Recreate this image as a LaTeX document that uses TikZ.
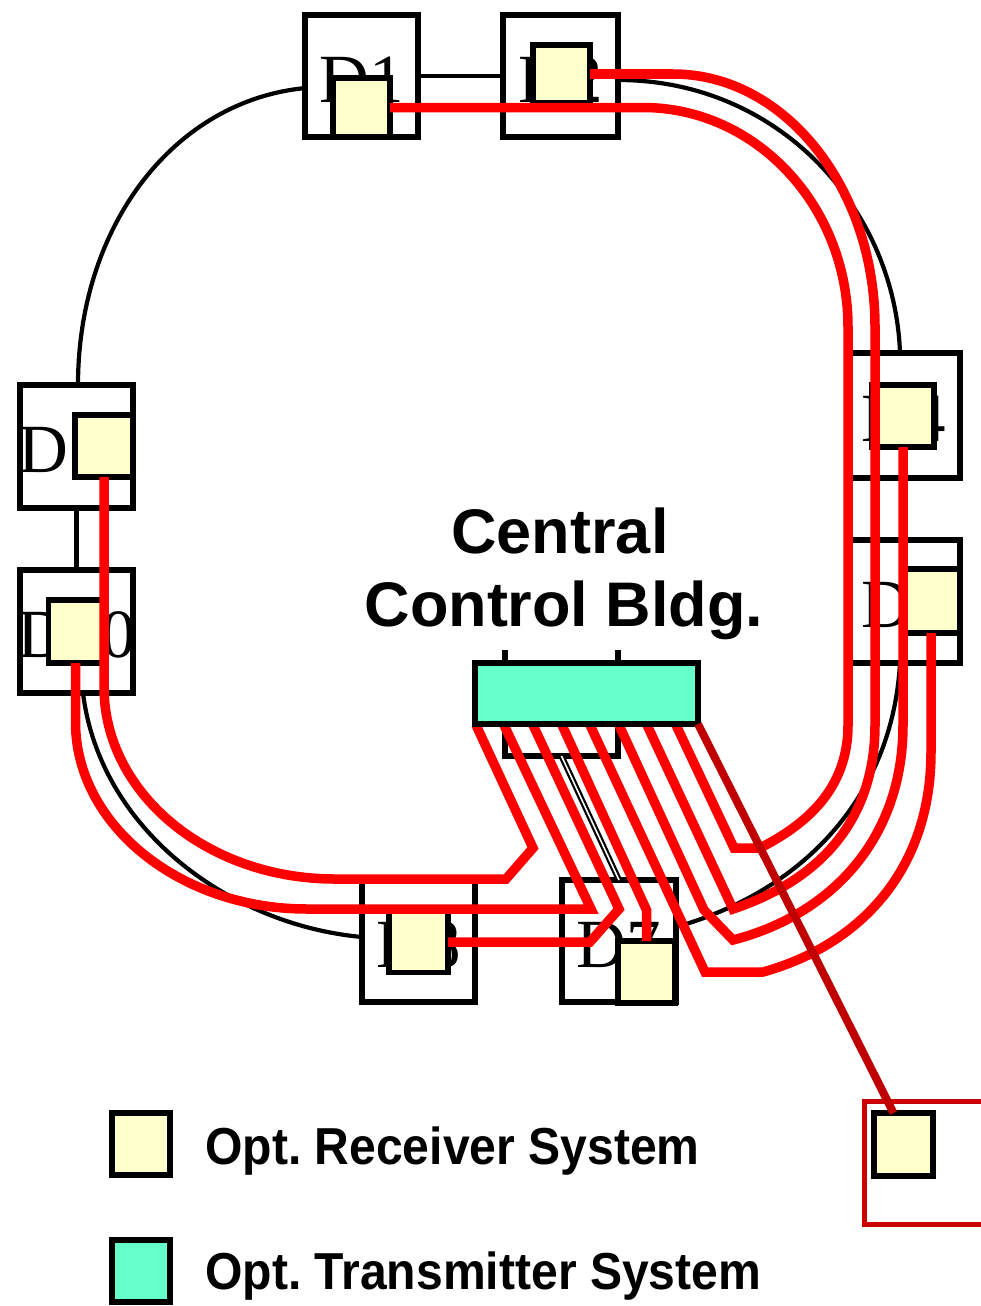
\documentclass[tikz,border=0pt]{standalone}
\usepackage{fontspec}
\newfontfamily\stnfont{Liberation Serif}
\newfontfamily\hsans{Liberation Sans}
\newfontfamily\hnarrow{Liberation Sans}[FakeStretch=0.925]
\usetikzlibrary{calc}
\definecolor{rcv}{HTML}{FFFFCC}
\definecolor{trmc}{HTML}{66FFCC}
\definecolor{fib}{HTML}{FF0000}
\definecolor{fibdk}{HTML}{C00000}
\definecolor{remc}{HTML}{CC0000}
\begin{document}
\begin{tikzpicture}[x=1pt,y=-1pt,
  stn/.style={draw=black,line width=5.5pt,fill=white,inner sep=0pt,outer sep=0pt,
     font=\stnfont\fontsize{69}{69}\selectfont,text height=52pt,text depth=0pt},
  rcvbox/.style={draw=black,line width=5.5pt,fill=rcv,inner sep=0pt,outer sep=0pt},
  ringline/.style={draw=black,line width=4.2pt},
  dblline/.style={draw=black,line width=2.2pt,double=white,double distance=1.6pt},
  fiber/.style={draw=fib,line width=9.5pt,line join=miter},
  fiberdk/.style={draw=fibdk,line width=8pt},
  bigtext/.style={font=\hsans\bfseries\fontsize{63}{63}\selectfont,anchor=base},
  legtext/.style={font=\hnarrow\bfseries\fontsize{52}{52}\selectfont,anchor=base west,inner sep=0pt}
]
\path[use as bounding box,fill=white] (0,0) rectangle (981,1306);

% ring
\draw[ringline] (78,385) .. controls (78,225) and (175,100) .. (306,88);
\draw[ringline] (618,80) .. controls (780,80) and (895,210) .. (900,353);
\draw[ringline] (900,663) .. controls (892,800) and (800,892) .. (676,927);
\draw[ringline] (83,693) .. controls (100,830) and (230,925) .. (362,937);

% stations
\node[stn,minimum width=113pt,minimum height=122pt] (d1) at (361.5,76) {\makebox[0pt]{D1}};
\node[stn,minimum width=115pt,minimum height=122pt] (d2) at (560.5,76) {\makebox[0pt]{D2}};
\node[stn,minimum width=112pt,minimum height=125pt] (d4) at (904,415.5) {\makebox[0pt]{D4}};
\node[stn,minimum width=112pt,minimum height=123pt] (d5) at (904,601.5) {\makebox[0pt]{D5}};
\node[stn,minimum width=113pt,minimum height=123pt] (d11) at (76.5,446.5) {\makebox[0pt]{D11}};
\node[stn,minimum width=113pt,minimum height=123pt] (d10) at (76.5,631.5) {\makebox[0pt]{D10}};
\node[stn,minimum width=113pt,minimum height=122pt] (d8) at (418.5,941) {\makebox[0pt]{D8}};
\node[stn,minimum width=114pt,minimum height=122pt] (d7) at (619,941) {\makebox[0pt]{D7}};
\node[stn,draw=none,fill=none,minimum width=113pt,minimum height=106pt] (d6) at (561.5,703) {};
\draw[black,line width=5.5pt] (d6.north west) -- (d6.south west) -- (d6.south east) -- (d6.north east);

% ring straight parts
\draw[ringline] (d1.east) -- (d2.west);
\draw[ringline] (d11.south) -- (d10.north);
\draw[ringline] (d4.south) -- (d5.north);
\draw[ringline] (d8.east) -- (d7.west);
\draw[dblline] (d6.south) -- (d7.north);

% receivers
\node[rcvbox,minimum width=57pt,minimum height=59pt] (r1) at (361.5,107.5) {};
\node[rcvbox,minimum width=57pt,minimum height=58pt] (r2) at (561.5,74) {};
\node[rcvbox,minimum width=62pt,minimum height=62pt] (r4) at (903,416) {};
\node[rcvbox,minimum width=58pt,minimum height=64pt] (r5) at (931,601) {};
\node[rcvbox,minimum width=58pt,minimum height=62pt] (r11) at (104,446) {};
\node[rcvbox,minimum width=54pt,minimum height=63pt] (r10) at (75.5,631.5) {};
\node[rcvbox,minimum width=59pt,minimum height=61pt] (r8) at (418.5,942) {};
\node[rcvbox,minimum width=57pt,minimum height=62pt] (r7) at (646.5,972) {};

% fan-out points at the transmitter
\coordinate (tA) at (476,725);
\coordinate (tB) at (504,725);
\coordinate (tC) at (533,725);
\coordinate (tD) at (562,725);
\coordinate (tE) at (590,725);
\coordinate (tF) at (619,725);
\coordinate (tG) at (647,725);
\coordinate (tH) at (676,725);

% fibres
\draw[fiber] (r11.south) -- (104,687) .. controls (104,793) and (207,879) .. (335,879) -- (506,879) -- (533,848) -- (tA);
\draw[fiber] (r10.south) -- (75.5,722) .. controls (75.5,825) and (180,909) .. (307,909) -- (591,909) -- (tB);
\draw[fiber] (r8.east) -- (590,942) -- (619,909) -- (tC);
\draw[fiber] (r7.north) -- (646.5,910) -- (tD);
\draw[fiber] (r5.south) -- (931,752) .. controls (931,870) and (860,945) .. (763,972) -- (705,972) -- (tE);
\draw[fiber] (r4.south) -- (903,725) .. controls (903,840) and (830,915) .. (733,940) -- (704,910) -- (tF);
\draw[fiber] (r2.east) -- (673,74) .. controls (785,74) and (875,188) .. (875,327) -- (875,725) .. controls (875,820) and (820,880) .. (733,909) -- (tG);
\draw[fiber] (r1.east) -- (643,107.5) .. controls (756,107.5) and (848,206) .. (848,327) -- (848,725) .. controls (848,790) and (805,825) .. (760,848) -- (734,848) -- (tH);

% transmitter
\node[draw=black,line width=5.5pt,fill=trmc,minimum width=223pt,minimum height=61pt,inner sep=0pt,outer sep=0pt] (trm) at (586.5,693.5) {};

% remote station
\node[draw=remc,line width=4.5pt,minimum width=140pt,minimum height=123pt,anchor=north west,inner sep=0pt] (rem) at (862,1099) {};
\node[rcvbox,minimum width=59pt,minimum height=63pt] (rr) at (903.5,1144.5) {};
\draw[fiberdk] (trm.south east) -- ($(rr.north)+(-10,0)$);

% texts
\node[bigtext] (cc1) at (560,553) {Central};
\node[bigtext] (cc2) at (564,626) {Control Bldg.};

% legend
\node[rcvbox,minimum width=58pt,minimum height=62pt] (leg1) at (141,1144) {};
\node[rcvbox,fill=trmc,minimum width=58pt,minimum height=62pt] (leg2) at (141,1271) {};
\node[legtext] (lt1) at (205,1164) {Opt.\ Receiver System};
\node[legtext] (lt2) at (205,1289) {Opt.\ Transmitter System};
\end{tikzpicture}
\end{document}
